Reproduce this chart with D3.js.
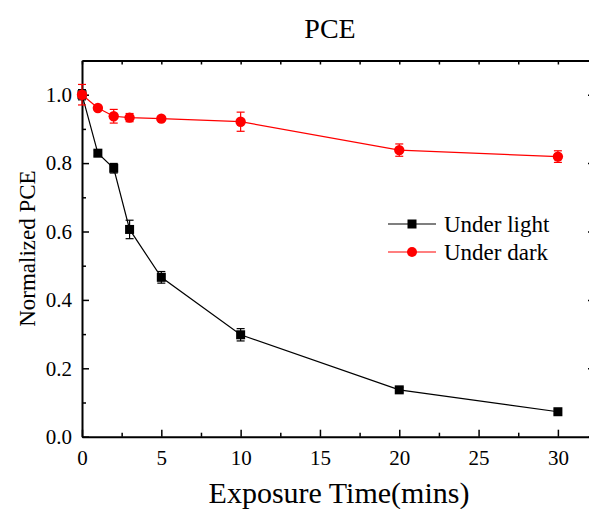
<!DOCTYPE html>
<html>
<head>
<meta charset="utf-8">
<script src="https://cdn.jsdelivr.net/npm/d3@7"></script>
<style>
  body { margin: 0; background: #fff; }
</style>
</head>
<body>
<svg id="chart"></svg>
<script>
// exposure time in minutes
var times = [0, 1, 2, 3, 5, 10, 20, 30]
// normalized PCE, under light
var lightValues = [1.0, 0.829, 0.785, 0.606, 0.466, 0.298, 0.137, 0.073]
var lightErrors = [0.015, 0.008, 0.014, 0.027, 0.017, 0.018, 0.007, 0.007]
// normalized PCE, under dark
var darkValues = [1.0, 0.961, 0.937, 0.933, 0.930, 0.921, 0.838, 0.819]
var darkErrors = [0.03, 0.006, 0.02, 0.012, 0.006, 0.028, 0.018, 0.017]

var xMajorTicks = [0, 5, 10, 15, 20, 25, 30]
var xMinorTicks = [2.5, 7.5, 12.5, 17.5, 22.5, 27.5]
var yMajorTicks = [0, 0.2, 0.4, 0.6, 0.8, 1.0]
var yMinorTicks = [0.1, 0.3, 0.5, 0.7, 0.9]

var seriesNames = ["Under light", "Under dark"]
var seriesColors = ["#000000", "#ff0000"]

var serif = "'Liberation Serif', 'Times New Roman', serif"

var dimensions = {
    width: 589,
    height: 509,
    margin: { top: 60.5, bottom: 72.3, left: 82, right: -3 }
}

var svg = d3.select("#chart")
            .attr("width", dimensions.width)
            .attr("height", dimensions.height)
            .attr("font-family", serif)

var xScale = d3.scaleLinear()
               .domain([0, 32.15])
               .range([dimensions.margin.left, dimensions.width - dimensions.margin.right])

var yScale = d3.scaleLinear()
               .domain([0, 1.1])
               .range([dimensions.height - dimensions.margin.bottom, dimensions.margin.top])

var bottomY = yScale(0)
var topY = yScale(1.1)
var leftX = xScale(0)
var rightX = xScale(32.15)

function styleAxis(g) {
    g.attr("font-family", serif)
    g.select(".domain").attr("stroke-width", 2)
    g.selectAll(".tick line").attr("stroke-width", 1.5)
    g.selectAll("text").attr("font-family", serif).attr("font-size", 21).attr("fill", "#000")
}

// bottom axis with labels
svg.append("g")
   .attr("transform", `translate(0,${bottomY})`)
   .call(d3.axisBottom(xScale).tickValues(xMajorTicks).tickSizeInner(-7).tickSizeOuter(0).tickPadding(13))
   .call(styleAxis)

svg.append("g")
   .attr("transform", `translate(0,${bottomY})`)
   .call(d3.axisBottom(xScale).tickValues(xMinorTicks).tickSize(-4).tickFormat(""))
   .call(g => g.select(".domain").remove())
   .call(styleAxis)

// top axis, ticks only
svg.append("g")
   .attr("transform", `translate(0,${topY})`)
   .call(d3.axisTop(xScale).tickValues(xMajorTicks.concat(xMinorTicks)).tickSizeInner(-4).tickSizeOuter(0).tickFormat(""))
   .call(styleAxis)

// left axis with labels
svg.append("g")
   .attr("transform", `translate(${leftX},0)`)
   .call(d3.axisLeft(yScale).tickValues(yMajorTicks).tickSizeInner(-7).tickSizeOuter(0).tickPadding(10).tickFormat(d3.format(".1f")))
   .call(styleAxis)

svg.append("g")
   .attr("transform", `translate(${leftX},0)`)
   .call(d3.axisLeft(yScale).tickValues(yMinorTicks).tickSize(-4).tickFormat(""))
   .call(g => g.select(".domain").remove())
   .call(styleAxis)

// right axis (mostly off the picture)
svg.append("g")
   .attr("transform", `translate(${rightX},0)`)
   .call(d3.axisRight(yScale).tickValues(yMajorTicks).tickSizeInner(-4).tickSizeOuter(0).tickFormat(""))
   .call(styleAxis)

var series = [
    { name: seriesNames[0], color: seriesColors[0], values: lightValues, errors: lightErrors, shape: "square" },
    { name: seriesNames[1], color: seriesColors[1], values: darkValues, errors: darkErrors, shape: "circle" }
]

var line = d3.line()
             .x(d => xScale(d.t))
             .y(d => yScale(d.v))

series.forEach(s => {
    var pts = times.map((t, i) => ({ t: t, v: s.values[i], e: s.errors[i] }))
    var g = svg.append("g")

    g.append("path")
     .datum(pts)
     .attr("d", line)
     .attr("fill", "none")
     .attr("stroke", s.color)
     .attr("stroke-width", 1.2)

    var err = g.selectAll(".err")
               .data(pts)
               .enter()
               .append("g")
               .attr("stroke", s.color)
               .attr("stroke-width", 1.2)

    err.append("line")
       .attr("x1", d => xScale(d.t)).attr("x2", d => xScale(d.t))
       .attr("y1", d => yScale(d.v - d.e)).attr("y2", d => yScale(d.v + d.e))
    err.append("line")
       .attr("x1", d => xScale(d.t) - 4).attr("x2", d => xScale(d.t) + 4)
       .attr("y1", d => yScale(d.v + d.e)).attr("y2", d => yScale(d.v + d.e))
    err.append("line")
       .attr("x1", d => xScale(d.t) - 4).attr("x2", d => xScale(d.t) + 4)
       .attr("y1", d => yScale(d.v - d.e)).attr("y2", d => yScale(d.v - d.e))

    if (s.shape === "square") {
        g.selectAll("rect")
         .data(pts)
         .enter()
         .append("rect")
         .attr("x", d => xScale(d.t) - 4.5)
         .attr("y", d => yScale(d.v) - 4.5)
         .attr("width", 9)
         .attr("height", 9)
         .attr("fill", s.color)
    } else {
        g.selectAll("circle")
         .data(pts)
         .enter()
         .append("circle")
         .attr("cx", d => xScale(d.t))
         .attr("cy", d => yScale(d.v))
         .attr("r", 5.2)
         .attr("fill", s.color)
    }
})

// legend
var legend = svg.append("g")
series.forEach((s, i) => {
    var ly = 224 + i * 28
    legend.append("line")
          .attr("x1", 388).attr("x2", 436)
          .attr("y1", ly).attr("y2", ly)
          .attr("stroke", s.color)
          .attr("stroke-width", 1.2)
    if (s.shape === "square") {
        legend.append("rect")
              .attr("x", 412 - 4.5).attr("y", ly - 4.5)
              .attr("width", 9).attr("height", 9)
              .attr("fill", s.color)
    } else {
        legend.append("circle")
              .attr("cx", 412).attr("cy", ly)
              .attr("r", 5)
              .attr("fill", s.color)
    }
    legend.append("text")
          .attr("x", 444)
          .attr("y", ly + 8)
          .attr("font-size", 23)
          .text(s.name)
})

// title and axis titles
svg.append("text")
   .attr("x", 330)
   .attr("y", 38)
   .attr("text-anchor", "middle")
   .attr("font-size", 28)
   .text("PCE")

svg.append("text")
   .attr("x", 339)
   .attr("y", 503)
   .attr("text-anchor", "middle")
   .attr("font-size", 30)
   .text("Exposure Time(mins)")

svg.append("text")
   .attr("transform", "rotate(-90)")
   .attr("x", -(dimensions.margin.top + bottomY) / 2)
   .attr("y", 35)
   .attr("text-anchor", "middle")
   .attr("font-size", 23)
   .text("Normalized PCE")
</script>
</body>
</html>
